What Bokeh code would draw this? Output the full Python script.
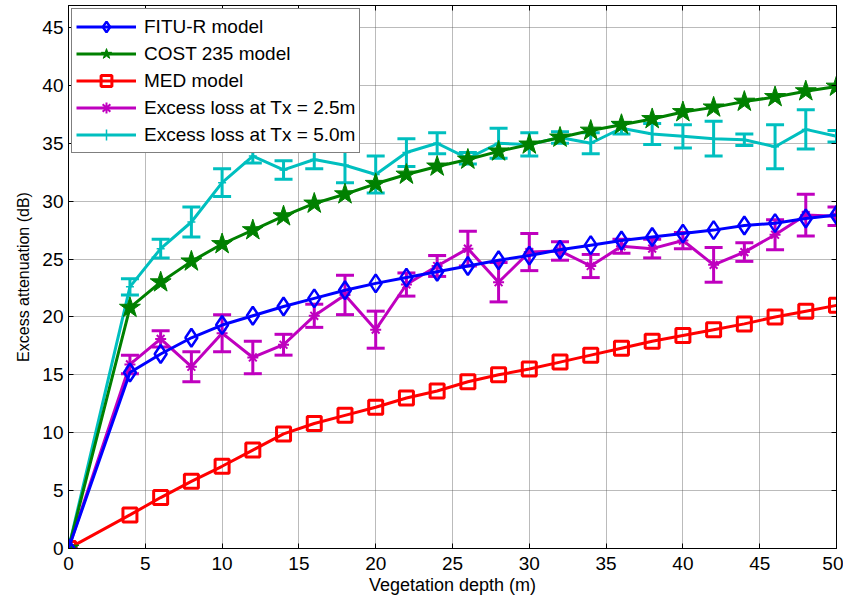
from bokeh.plotting import figure
from bokeh.models import (ColumnDataSource, Whisker, TeeHead, LinearAxis, Legend, LegendItem,
                          Range1d, FixedTicker)
from bokeh.embed import file_html
from bokeh.resources import INLINE

depth = [0, 4, 6, 8, 10, 12, 14, 16, 18, 20, 22, 24, 26, 28, 30, 32, 34, 36, 38, 40, 42, 44, 46, 48, 50]

fitu_r = [0, 15.2, 16.8, 18.2, 19.3, 20.1, 20.9, 21.6, 22.3, 22.9, 23.4, 23.9, 24.4, 24.9, 25.3,
          25.8, 26.2, 26.6, 26.9, 27.2, 27.5, 27.9, 28.1, 28.5, 28.8]
cost235 = [0, 20.8, 23.0, 24.8, 26.3, 27.5, 28.7, 29.8, 30.6, 31.5, 32.3, 33.0, 33.6, 34.3, 34.9,
           35.5, 36.1, 36.6, 37.1, 37.7, 38.1, 38.6, 39.0, 39.5, 39.9]
med = [0, 2.9, 4.4, 5.8, 7.1, 8.5, 9.9, 10.8, 11.5, 12.2, 13.0, 13.6, 14.4, 15.0, 15.5,
       16.1, 16.7, 17.3, 17.9, 18.4, 18.9, 19.4, 20.0, 20.5, 21.0]
tx25 = [0, 15.9, 18.1, 15.7, 18.6, 16.5, 17.6, 20.1, 21.9, 18.9, 22.8, 24.4, 25.9, 23.0, 25.6,
        25.7, 24.4, 26.1, 25.9, 26.6, 24.5, 25.6, 27.1, 28.8, 28.7]
tx25_err = [0, 0.8, 0.7, 1.3, 1.6, 1.4, 0.9, 1.0, 1.7, 1.6, 1.0, 0.9, 1.5, 1.7, 1.6,
            0.8, 1.0, 0.6, 0.8, 0.7, 1.5, 0.8, 1.3, 1.8, 0.8]
tx50 = [0, 22.6, 25.9, 28.2, 31.6, 33.9, 32.7, 33.6, 33.1, 32.3, 34.2, 35.0, 33.7, 35.0, 34.9,
        35.5, 35.0, 36.3, 35.8, 35.6, 35.4, 35.3, 34.7, 36.2, 35.6]
tx50_err = [0, 0.7, 0.8, 1.3, 1.2, 0.6, 0.8, 0.8, 1.5, 1.6, 1.2, 0.9, 0.5, 1.3, 1.0,
            0.5, 0.9, 0.5, 0.9, 1.0, 1.5, 0.5, 1.9, 1.7, 0.5]

legend_labels = ["FITU-R model", "COST 235 model", "MED model",
                 "Excess loss at Tx = 2.5m", "Excess loss at Tx = 5.0m"]
x_ticks = [0, 5, 10, 15, 20, 25, 30, 35, 40, 45, 50]
y_ticks = [0, 5, 10, 15, 20, 25, 30, 35, 40, 45]

FONT = "Liberation Sans"

p = figure(width=843, height=600, output_backend="svg", toolbar_location=None,
           x_range=Range1d(0, 50), y_range=Range1d(0, 46.9),
           min_border_left=68, min_border_right=7, min_border_top=5, min_border_bottom=52)
p.outline_line_color = "black"
p.outline_line_width = 1

for ax in (p.xaxis[0], p.yaxis[0]):
    ax.major_tick_in = 5
    ax.major_tick_out = 0
    ax.minor_tick_in = 0
    ax.minor_tick_out = 0
    ax.major_label_text_font = FONT
    ax.major_label_text_font_size = "19px"
    ax.major_label_text_color = "black"
    ax.axis_label_text_font = FONT
    ax.axis_label_text_font_style = "normal"
    ax.axis_label_text_color = "black"
    ax.axis_line_color = "black"
    ax.major_tick_line_color = "black"
p.xaxis[0].ticker = FixedTicker(ticks=x_ticks)
p.yaxis[0].ticker = FixedTicker(ticks=y_ticks)
p.xaxis[0].axis_label = "Vegetation depth (m)"
p.yaxis[0].axis_label = "Excess attenuation (dB)"
p.xaxis[0].axis_label_text_font_size = "18px"
p.yaxis[0].axis_label_text_font_size = "16px"
p.xaxis[0].major_label_standoff = 8
p.yaxis[0].major_label_standoff = 5
p.xaxis[0].axis_label_standoff = 2
p.yaxis[0].axis_label_standoff = 7

top = LinearAxis(ticker=FixedTicker(ticks=x_ticks),
                 major_label_overrides={t: "" for t in x_ticks},
                 major_tick_in=5, major_tick_out=0, minor_tick_in=0, minor_tick_out=0)
right = LinearAxis(ticker=FixedTicker(ticks=y_ticks),
                   major_label_overrides={t: "" for t in y_ticks},
                   major_tick_in=5, major_tick_out=0, minor_tick_in=0, minor_tick_out=0)
p.add_layout(top, "above")
p.add_layout(right, "right")

p.xgrid.ticker = FixedTicker(ticks=x_ticks)
p.ygrid.ticker = FixedTicker(ticks=y_ticks)
for g in (p.xgrid[0], p.ygrid[0]):
    g.grid_line_color = "#555555"
    g.grid_line_dash = "1 1"
    g.grid_line_width = 1
    g.grid_line_alpha = 0.8

src = ColumnDataSource(dict(x=depth, fitu=fitu_r, cost=cost235, med=med,
                            t25=tx25, t25u=[a + b for a, b in zip(tx25, tx25_err)],
                            t25l=[a - b for a, b in zip(tx25, tx25_err)],
                            t50=tx50, t50u=[a + b for a, b in zip(tx50, tx50_err)],
                            t50l=[a - b for a, b in zip(tx50, tx50_err)]))

LW = 3

# Tx=5.0
c_cy = "#00BFBF"
w50 = Whisker(source=src, base="x", upper="t50u", lower="t50l", line_color=c_cy, line_width=3,
              upper_head=TeeHead(size=18, line_color=c_cy, line_width=3),
              lower_head=TeeHead(size=18, line_color=c_cy, line_width=3))
l5 = p.line("x", "t50", source=src, line_color=c_cy, line_width=LW)
m5 = p.scatter("x", "t50", source=src, marker="cross", size=8, line_color=c_cy, line_width=1.5)

# Tx=2.5
c_mg = "#BF00BF"
w25 = Whisker(source=src, base="x", upper="t25u", lower="t25l", line_color=c_mg, line_width=3,
              upper_head=TeeHead(size=18, line_color=c_mg, line_width=3),
              lower_head=TeeHead(size=18, line_color=c_mg, line_width=3))
l4 = p.line("x", "t25", source=src, line_color=c_mg, line_width=LW)
m4 = p.scatter("x", "t25", source=src, marker="asterisk", size=11, line_color=c_mg, line_width=2)

# MED
l3 = p.line("x", "med", source=src, line_color="red", line_width=LW)
m3 = p.scatter("x", "med", source=src, marker="square", size=14, fill_color="white",
               fill_alpha=0, line_color="red", line_width=3)

# COST 235
c_gr = "#008000"
l2 = p.line("x", "cost", source=src, line_color=c_gr, line_width=LW)
m2 = p.scatter("x", "cost", source=src, marker="star", size=22, fill_color=c_gr, line_color=c_gr,
               line_width=1)

# FITU-R
l1 = p.line("x", "fitu", source=src, line_color="blue", line_width=LW)
m1 = p.scatter("x", "fitu", source=src, marker="diamond", size=18, fill_color="white",
               fill_alpha=0, line_color="blue", line_width=2.5)

p.add_layout(w50)
p.add_layout(w25)

legend = Legend(items=[
    LegendItem(label=legend_labels[0], renderers=[l1, m1]),
    LegendItem(label=legend_labels[1], renderers=[l2, m2]),
    LegendItem(label=legend_labels[2], renderers=[l3, m3]),
    LegendItem(label=legend_labels[3], renderers=[l4, m4]),
    LegendItem(label=legend_labels[4], renderers=[l5, m5]),
], location="top_left")
legend.label_text_font = FONT
legend.label_text_font_size = "19px"
legend.label_text_color = "black"
legend.border_line_color = "black"
legend.border_line_width = 1
legend.background_fill_alpha = 1
legend.margin = 3
legend.padding = 4
legend.spacing = 0
legend.glyph_width = 60
legend.label_height = 27
legend.glyph_height = 27
legend.label_standoff = 8
p.add_layout(legend)

open("out.html", "w").write(file_html(p, INLINE))
